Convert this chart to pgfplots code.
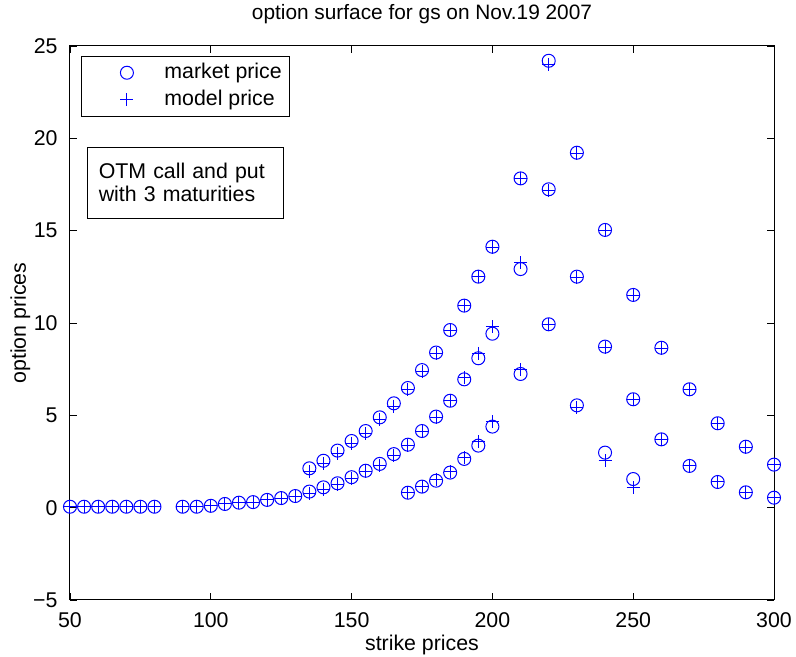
\documentclass[border=0pt]{standalone}
\usepackage{fontspec}
\setmainfont{Liberation Sans}
\usepackage{pgfplots}
\pgfplotsset{compat=1.18}
\usepackage{pgfplotstable}

% market prices, all three maturities
\pgfplotstableread{
k    p
50   0.05
55   0.05
60   0.05
65   0.05
70   0.05
75   0.05
80   0.05
90   0.05
95   0.05
100  0.10
105  0.20
110  0.27
115  0.30
120  0.42
125  0.52
130  0.63
135  0.87
140  1.10
145  1.32
150  1.65
155  2.00
160  2.37
165  2.90
170  3.41
175  4.15
180  4.93
185  5.79
190  6.95
195  8.09
200  9.42
210  12.92
220  17.24
230  12.51
240  8.72
250  5.87
260  3.70
270  2.26
280  1.39
290  0.83
300  0.54
135  2.13
140  2.54
145  3.09
150  3.61
155  4.15
160  4.89
165  5.65
170  6.48
175  7.45
180  8.40
185  9.62
190  10.94
195  12.51
200  14.13
210  17.83
220  24.20
230  19.22
240  15.04
250  11.52
260  8.66
270  6.41
280  4.57
290  3.30
300  2.33
170  0.81
175  1.14
180  1.46
185  1.90
190  2.64
195  3.36
200  4.39
210  7.24
220  9.93
230  5.54
240  2.98
250  1.55
}\market

% model prices
\pgfplotstableread{
k    p
50   0.05
55   0.05
60   0.05
65   0.05
70   0.05
75   0.05
80   0.05
90   0.05
95   0.05
100  0.10
105  0.20
110  0.27
115  0.30
120  0.42
125  0.52
130  0.60
135  0.75
140  1.00
145  1.25
150  1.60
155  1.95
160  2.30
165  2.85
170  3.35
175  4.10
180  4.90
185  5.80
190  7.05
195  8.35
200  9.80
210  13.27
220  17.20
230  12.48
240  8.70
250  5.85
260  3.70
270  2.26
280  1.39
290  0.83
300  0.54
135  1.95
140  2.40
145  2.95
150  3.50
155  4.00
160  4.75
165  5.50
170  6.40
175  7.40
180  8.35
185  9.60
190  10.95
195  12.50
200  14.10
210  17.80
220  24.00
230  19.20
240  15.00
250  11.50
260  8.62
270  6.40
280  4.55
290  3.28
300  2.33
170  0.81
175  1.14
180  1.50
185  1.95
190  2.70
195  3.57
200  4.66
210  7.46
220  9.93
230  5.40
240  2.54
250  1.10
}\model

\begin{document}
\fontsize{12.8}{15}\selectfont
\begin{tikzpicture}
\begin{axis}[
    name=ax,
    scale only axis,
    width=422.4pt, height=332.4pt,
    xmin=50, xmax=300, ymin=-5, ymax=25,
    xtick={50,100,...,300},
    ytick={-5,0,...,25},
    yticklabels={−5,0,5,10,15,20,25},
    /pgf/number format/assume math mode=true,
    tick align=inside,
    major tick length=4.2pt,
    tick style={black, line width=0.5pt},
    axis line style={line width=0.6pt},
    xticklabel style={yshift=-3pt},
    yticklabel style={xshift=-3pt},
    title={option surface for gs on Nov.19 2007},
    title style={yshift=3pt, font=\fontsize{12.5}{14}\selectfont},
    xlabel={strike prices},
    ylabel={option prices},
    xlabel style={yshift=4.5pt},
    ylabel style={yshift=-7pt},
    legend cell align=left,
    legend image code/.code={\path (0pt,0pt) (44.4pt,0pt);
        \draw[#1] plot coordinates {(22.2pt,0pt)};},
    legend style={at={(rel axis cs:0,1)}, xshift=6.6pt, yshift=-6pt,
        anchor=north west, draw=black, line width=0.5pt,
        inner xsep=4.8pt, inner ysep=4.2pt, row sep=5pt,
        nodes={inner sep=0pt}},
]
\addplot[only marks, mark=o, blue, mark size=3.9pt, line width=0.6pt]
    table[x=k, y=p] {\market};
\addlegendentry{market price}
\addplot[only marks, mark=+, blue, mark size=3.9pt, line width=0.6pt]
    table[x=k, y=p] {\model};
\addlegendentry{model price}
\node[draw=black, line width=0.5pt, anchor=north west, align=left,
      text width=103.8pt, minimum height=42.7pt, inner xsep=7pt,
      font=\fontsize{12.8}{14}\selectfont]
    at (rel axis cs:0,1) [xshift=10pt, yshift=-60.4pt]
    {OTM call and put\\with 3 maturities};
\end{axis}
\pgfresetboundingbox
\path[use as bounding box] ([xshift=-42pt, yshift=-34.2pt]ax.south west)
    rectangle ([xshift=13.2pt, yshift=27.6pt]ax.north east);
\end{tikzpicture}
\end{document}
